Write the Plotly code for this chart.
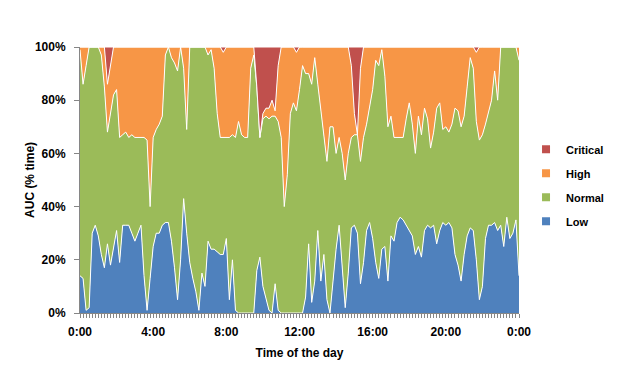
import plotly.graph_objects as go

# Time categories: one every 10 minutes, 0:00 .. 24:00
minutes = list(range(0, 1441, 10))
tick_minutes = [0, 240, 480, 720, 960, 1200, 1440]
tick_labels = ["0:00", "4:00", "8:00", "12:00", "16:00", "20:00", "0:00"]
y_ticks = [0, 20, 40, 60, 80, 100]
y_tick_labels = ["0%", "20%", "40%", "60%", "80%", "100%"]

# Read-off cumulative boundaries (% of time)
low_top = [14, 13, 1, 2, 30, 33, 29, 22, 17, 26, 18, 24, 31, 19, 33, 33, 33, 30, 27, 30,
           33, 14, 1, 13, 25, 30, 30, 33, 34, 34, 27, 17, 5, 20, 43, 30, 19, 13, 8, 1,
           15, 10, 27, 24, 24, 23, 22, 22, 28, 5, 20, 1, 0, 0, 0, 0, 0, 0, 16, 21,
           10, 6, 1, 0, 11, 1, 0, 0, 0, 0, 0, 0, 0, 0, 6, 26, 4, 12, 31, 12,
           22, 5, 0, 12, 24, 33, 18, 2, 15, 32, 33, 30, 11, 19, 31, 34, 28, 19, 13, 24,
           25, 12, 29, 27, 34, 36, 35, 33, 31, 29, 22, 25, 21, 31, 33, 32, 33, 26, 31, 34,
           33, 34, 32, 22, 18, 12, 22, 29, 32, 31, 20, 5, 10, 28, 33, 33, 34, 31, 33, 25,
           36, 28, 30, 35, 14]
normal_top = [99, 86, 93, 100, 100, 100, 100, 97, 85, 68, 75, 82, 84, 66, 67, 68, 66, 67, 66, 66,
              66, 66, 65, 40, 66, 69, 71, 74, 97, 100, 96, 94, 91, 100, 92, 69, 100, 100, 100, 100,
              100, 100, 97, 99, 92, 75, 66, 66, 66, 66, 67, 66, 72, 67, 66, 66, 92, 97, 85, 66,
              73, 74, 73, 74, 74, 72, 66, 40, 52, 75, 79, 76, 84, 93, 90, 90, 86, 96, 86, 76,
              66, 57, 70, 70, 60, 66, 60, 50, 60, 66, 67, 67, 57, 66, 71, 77, 84, 95, 93, 99,
              89, 70, 74, 66, 66, 66, 66, 73, 79, 71, 60, 74, 67, 77, 73, 62, 68, 77, 79, 69,
              70, 68, 71, 77, 76, 70, 74, 85, 96, 92, 72, 65, 67, 71, 75, 80, 91, 80, 100, 100,
              100, 100, 100, 100, 95]
high_top = [100] * 145
for i, v in [(9, 86), (10, 93), (47, 98), (58, 85), (59, 66), (60, 75), (61, 77), (62, 77),
             (63, 80), (64, 76), (65, 93), (71, 98), (89, 93), (90, 75), (91, 67), (92, 92),
             (130, 98)]:
    high_top[i] = v

low = low_top
normal = [n - l for n, l in zip(normal_top, low_top)]
high = [h - n for h, n in zip(high_top, normal_top)]
critical = [100 - h for h in high_top]

series = [("Low", low, "#4F81BD"), ("Normal", normal, "#9BBB59"),
          ("High", high, "#F79646"), ("Critical", critical, "#C0504D")]

fig = go.Figure()
for name, vals, col in series:
    fig.add_trace(go.Scatter(x=minutes, y=vals, name=name, mode="lines",
                             stackgroup="one", fillcolor=col,
                             line=dict(color="white", width=1),
                             showlegend=False, hoverinfo="x+y+name"))

# legend entries (square markers), Critical on top
for k, (name, vals, col) in enumerate(reversed(series)):
    fig.add_trace(go.Scatter(x=[None], y=[None], name=name, mode="markers",
                             marker=dict(symbol="square", size=8, color=col),
                             legendgroup="g%d" % k, showlegend=True))

font = dict(family="Liberation Sans, Arial, sans-serif", size=12, color="#000000", weight="bold")

fig.update_layout(
    width=626, height=367,
    margin=dict(l=72, r=115, t=39, b=62),
    paper_bgcolor="white", plot_bgcolor="white",
    font=font,
    showlegend=True,
    legend=dict(x=1.016, xanchor="left", y=0.48, yanchor="middle",
                tracegroupgap=5, font=dict(size=11, weight="bold"),
                bgcolor="rgba(0,0,0,0)"),
    xaxis=dict(range=[0, 1440], tickmode="array", tickvals=tick_minutes,
               ticktext=tick_labels, showline=True, linecolor="#868686",
               linewidth=1, ticks="outside", ticklen=4, tickcolor="#868686",
               showgrid=False, zeroline=False, ticklabelstandoff=4,
               minor=dict(dtick=10, tick0=0, ticks="outside", ticklen=4,
                          tickcolor="#868686", showgrid=False),
               title=dict(text="Time of the day", standoff=10,
                          font=dict(size=12, weight="bold"))),
    yaxis=dict(range=[0, 100], tickmode="array", tickvals=y_ticks,
               ticktext=y_tick_labels, showline=True, linecolor="#868686", linewidth=1,
               ticks="outside", ticklen=5, tickcolor="#868686",
               showgrid=False, zeroline=False, ticklabelstandoff=6,
               automargin=False),
    annotations=[dict(text="AUC (% time)", xref="paper", yref="paper",
                      x=-0.114, y=0.5, xanchor="center", yanchor="middle",
                      textangle=-90, showarrow=False,
                      font=dict(size=12, weight="bold"))],
)

fig.write_html("out.html")
